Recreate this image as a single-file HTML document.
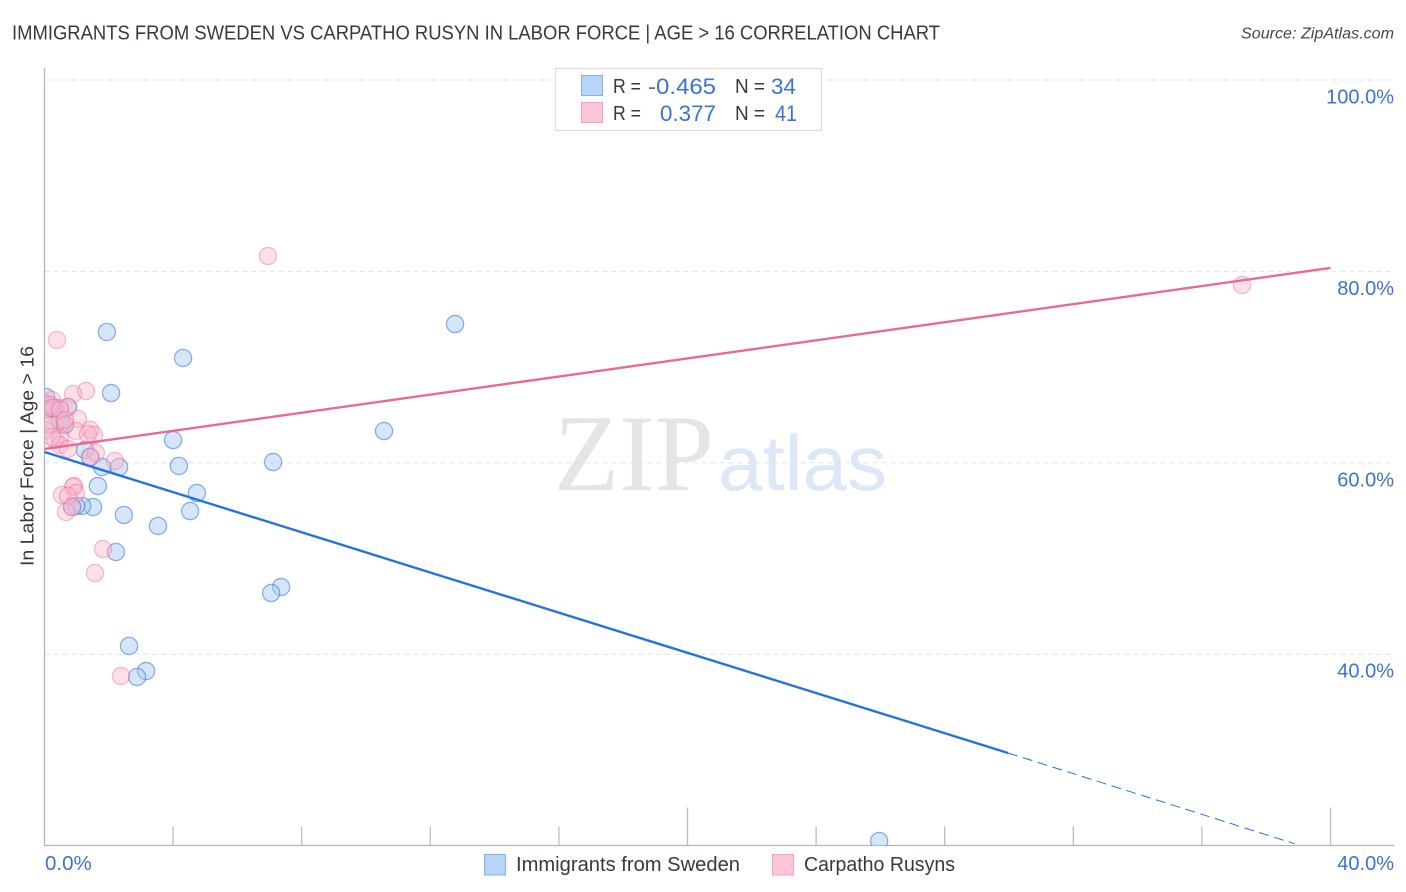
<!DOCTYPE html>
<html lang="en">
<head>
<meta charset="utf-8">
<title>Immigrants from Sweden vs Carpatho Rusyn in Labor Force Correlation Chart</title>
<style>
html,body{margin:0;padding:0;background:#fff;width:1406px;height:892px;overflow:hidden}
svg{display:block;font-family:"Liberation Sans",sans-serif}
</style>
</head>
<body>
<svg id="chart" width="1406" height="892" viewBox="0 0 1406 892" xmlns="http://www.w3.org/2000/svg">
  <defs><clipPath id="plot-clip"><rect x="45" y="60" width="1349" height="786"/></clipPath></defs>
  <text x="12" y="39.500" font-size="20" fill="#333a44" textLength="928" lengthAdjust="spacingAndGlyphs">IMMIGRANTS FROM SWEDEN VS CARPATHO RUSYN IN LABOR FORCE | AGE &gt; 16 CORRELATION CHART</text>
  <text x="1241" y="38.500" font-size="15.500" font-style="italic" fill="#414852" textLength="153" lengthAdjust="spacingAndGlyphs">Source: ZipAtlas.com</text>

  <g>
    <text x="554" y="490" font-family="'Liberation Serif',serif" font-size="109" fill="#e5e5e5" textLength="160" lengthAdjust="spacingAndGlyphs">ZIP</text>
    <text x="718" y="490" font-family="'Liberation Sans',sans-serif" font-size="78" fill="#dce7f8" textLength="169" lengthAdjust="spacingAndGlyphs">atlas</text>
  </g>

  <g id="grid"></g>
  <g id="axes"></g>
  <g id="points" clip-path="url(#plot-clip)"></g>
  <g id="trends"></g>
  <g id="labels"></g>

  <text transform="translate(33.500,456) rotate(-90)" font-size="18.500" fill="#333a44" text-anchor="middle" textLength="220" lengthAdjust="spacingAndGlyphs">In Labor Force | Age &gt; 16</text>

  <g>
    <rect x="555.500" y="68.500" width="266" height="62" fill="#fff" stroke="#dcdcdc" stroke-width="1.200"/>
    <rect x="581.500" y="75.500" width="21" height="20" fill="#b8d4f8" stroke="#88b1e8"/>
    <rect x="581.500" y="102.500" width="21" height="20" fill="#fcc6d7" stroke="#f2a2bb"/>
    <g font-size="20" fill="#333a44">
      <text x="613" y="93" textLength="28" lengthAdjust="spacingAndGlyphs">R =</text>
      <text x="735" y="93" textLength="30" lengthAdjust="spacingAndGlyphs">N =</text>
      <text x="613" y="120" textLength="28" lengthAdjust="spacingAndGlyphs">R =</text>
      <text x="735" y="120" textLength="30" lengthAdjust="spacingAndGlyphs">N =</text>
    </g>
    <g font-size="22" fill="#3b72d6">
      <text x="648" y="94" textLength="68" lengthAdjust="spacingAndGlyphs">-0.465</text>
      <text x="771" y="94" textLength="25" lengthAdjust="spacingAndGlyphs">34</text>
      <text x="660" y="121" textLength="56" lengthAdjust="spacingAndGlyphs">0.377</text>
      <text x="775" y="121" textLength="22" lengthAdjust="spacingAndGlyphs">41</text>
    </g>
  </g>

  <g>
    <rect x="484.500" y="854.500" width="21" height="20.500" fill="#b8d4f8" stroke="#88b1e8"/>
    <text x="516" y="871" font-size="20" fill="#333a44" textLength="224" lengthAdjust="spacingAndGlyphs">Immigrants from Sweden</text>
    <rect x="772.500" y="854.500" width="21" height="20.500" fill="#fcc6d7" stroke="#f2a2bb"/>
    <text x="804" y="871" font-size="20" fill="#333a44" textLength="151" lengthAdjust="spacingAndGlyphs">Carpatho Rusyns</text>
  </g>
</svg>

<script>
var swedenX = [1.94,4.31,2.07,12.77,0.73,4.00,10.56,7.11,4.18,2.32,1.79,1.26,1.42,1.66,4.74,4.53,2.47,3.53,1.51,1.17,0.98,0.86,2.22,7.36,7.05,2.63,3.16,2.88,25.96,0.05,0.33,0.17,0.48,0.64];
var swedenY = [73.67,70.95,67.29,74.50,65.83,62.38,63.32,60.08,59.67,59.56,59.56,61.34,60.61,57.58,56.84,54.96,54.55,53.40,55.38,55.49,55.49,55.38,50.68,47.02,46.39,40.86,38.24,37.62,20.48,66.87,65.73,65.73,64.47,63.95];
var rusynX = [6.95,37.25,0.39,1.29,0.89,0.23,0.00,0.48,0.73,1.04,0.33,0.64,1.42,1.54,0.98,1.35,0.33,0.48,0.48,0.73,1.60,2.19,1.42,0.92,0.89,0.98,0.54,0.73,0.67,0.86,1.82,1.57,2.38,0.02,0.11,0.23,0.02,0.17,0.26,0.48,0.64];
var rusynY = [81.61,78.58,72.83,67.50,67.19,66.56,66.25,65.73,65.83,64.58,63.95,64.05,63.43,62.90,63.32,63.01,62.38,62.59,61.86,61.44,61.02,60.19,60.61,57.58,57.47,56.84,56.63,56.53,54.86,55.38,50.99,48.48,37.72,63.43,63.95,62.70,65.52,66.04,65.73,65.52,64.47];
var swedenTrendX = [0,29.97];
var swedenTrendY = [61.13,29.68];
var swedenDashX = [29.97,38.88];
var swedenDashY = [29.68,20.20];
var rusynTrendX = [0,40];
var rusynTrendY = [61.45,80.36];
var yGridValues = [100,80,60,40];
var yTickLabels = ["100.0%","80.0%","60.0%","40.0%"];
var xTickValues = [4,8,12,16,20,24,28,32,36,40];
var xMajorTicks = [20,40];
var xEndValues = [0,40];
var xEndLabels = ["0.0%","40.0%"];

var NS = "http://www.w3.org/2000/svg";
function xScale(v){ return 44.5 + v * 32.15; }
function yScale(v){ return 80 + (100 - v) * 9.57; }
function make(tag, parent, attrs){
  var el = document.createElementNS(NS, tag);
  for (var k in attrs) el.setAttribute(k, attrs[k]);
  parent.appendChild(el);
  return el;
}
var gridG = document.getElementById("grid");
var axesG = document.getElementById("axes");
var pointsG = document.getElementById("points");
var trendsG = document.getElementById("trends");
var labelsG = document.getElementById("labels");

yGridValues.forEach(function(v, i){
  var line = make("line", gridG, {x1:44.5, x2:1394, y1:yScale(v), y2:yScale(v), stroke:"#e2e2e2", "stroke-width":1, "stroke-dasharray":"5 4"});
  
  
  var t = make("text", labelsG, {x:1394, y:yScale(v)+23.5, "font-size":20, fill:"#3b72d6", "text-anchor":"end"});
  
  
  t.textContent = yTickLabels[i];
});

var yAxis = make("line", axesG, {x1:44.5, x2:44.5, y1:68, y2:846, stroke:"#b4b4b4", "stroke-width":1.3});


var xAxis = make("line", axesG, {x1:44, x2:1394, y1:845.5, y2:845.5, stroke:"#b4b4b4", "stroke-width":1.3});



xTickValues.forEach(function(v){
  var top = xMajorTicks.indexOf(v) >= 0 ? 807.5 : 826.5;
  var tick = make("line", axesG, {x1:xScale(v), x2:xScale(v), y1:top, y2:845.5, stroke:"#bcbcbc", "stroke-width":1.3});
  
  
});

xEndValues.forEach(function(v, i){
  var t = make("text", labelsG, {x: i === 0 ? xScale(v) + 0.5 : 1394, y:870, "font-size": i === 0 ? 20.5 : 20, fill:"#3b72d6", "text-anchor": i === 0 ? "start" : "end"});
  
  
  t.textContent = xEndLabels[i];
});

swedenX.forEach(function(v, i){
  var c = make("circle", pointsG, {cx:xScale(v), cy:yScale(swedenY[i]), r:8.6, fill:"#a9cbf5", "fill-opacity":0.48, stroke:"#3f7fdc", "stroke-opacity":0.6, "stroke-width":1.3});
  
  
});
rusynX.forEach(function(v, i){
  var c = make("circle", pointsG, {cx:xScale(v), cy:yScale(rusynY[i]), r:8.6, fill:"#f9b4ca", "fill-opacity":0.42, stroke:"#ea6f98", "stroke-opacity":0.45, "stroke-width":1.3});
  
  
});

var rusynLine = make("line", trendsG, {x1:xScale(rusynTrendX[0]), y1:yScale(rusynTrendY[0]), x2:xScale(rusynTrendX[1]), y2:yScale(rusynTrendY[1]), stroke:"#e8689a", "stroke-width":2.4});


var swedenLine = make("line", trendsG, {x1:xScale(swedenTrendX[0]), y1:yScale(swedenTrendY[0]), x2:xScale(swedenTrendX[1]), y2:yScale(swedenTrendY[1]), stroke:"#2674d9", "stroke-width":2.4});


var swedenDash = make("line", trendsG, {x1:xScale(swedenDashX[0]), y1:yScale(swedenDashY[0]), x2:xScale(swedenDashX[1]), y2:yScale(swedenDashY[1]), stroke:"#2674d9", "stroke-width":1, "stroke-dasharray":"10 5.500"});


</script>
</body>
</html>
